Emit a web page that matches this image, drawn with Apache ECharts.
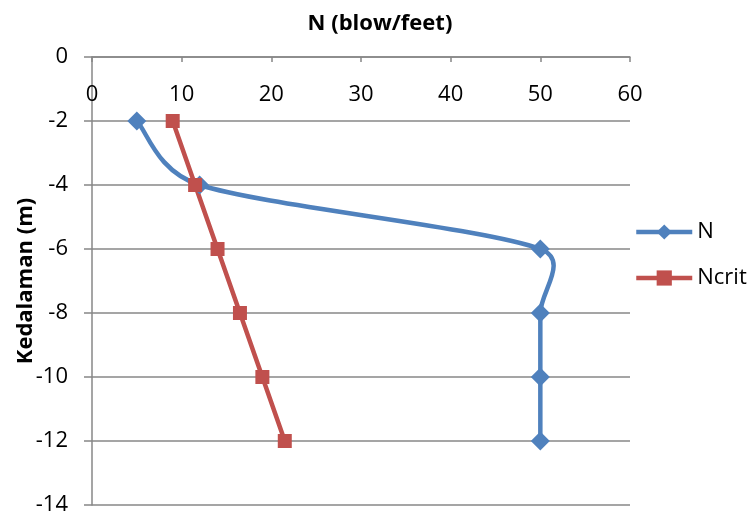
<!DOCTYPE html>
<html>
<head>
<meta charset="utf-8">
<script src="https://cdn.jsdelivr.net/npm/echarts@6/dist/echarts.min.js"></script>
<style>
  html, body { margin: 0; padding: 0; background: #fff; }
  #chart { width: 750px; height: 513px; }
</style>
</head>
<body>
<div id="chart"></div>
<script>
// Depth (m) against blow count N and critical blow count Ncrit
const depths = [-2, -4, -6, -8, -10, -12];
const nValues = [5, 12, 50, 50, 50, 50];
const nCritValues = [9, 11.5, 14, 16.5, 19, 21.5];
const xTicks = [0, 10, 20, 30, 40, 50, 60];
const yTicks = [0, -2, -4, -6, -8, -10, -12, -14];

const FONT = 'Open Sans';
const BLUE = '#4F81BD';
const RED = '#C0504D';
const GRID = '#878787';
const pair = (xs) => xs.map((x, i) => [x, depths[i]]);

const dist = (a, b) => Math.hypot(b[0] - a[0], b[1] - a[1]);

// Smoothed N curve: cubic Bezier segments, tangents of 1/6 of the chord to the
// neighbours, shortened when they would exceed half of the segment length
function renderSmoothN(params, api) {
  const n = nValues.length;
  const i = params.dataIndex;
  if (i >= n - 1) return null;
  const at = (j) => {
    const k = Math.max(0, Math.min(n - 1, j));
    return api.coord([nValues[k], depths[k]]);
  };
  const p0 = at(i - 1), p1 = at(i), p2 = at(i + 1), p3 = at(i + 2);
  const half = dist(p1, p2) / 2;
  const d02 = dist(p0, p2), d13 = dist(p1, p3);
  const f0 = d02 / 6 < half ? 1 / 6 : half / d02;
  const f1 = d13 / 6 < half ? 1 / 6 : half / d13;
  return {
    type: 'bezierCurve',
    shape: {
      x1: p1[0], y1: p1[1],
      x2: p2[0], y2: p2[1],
      cpx1: p1[0] + (p2[0] - p0[0]) * f0,
      cpy1: p1[1] + (p2[1] - p0[1]) * f0,
      cpx2: p2[0] - (p3[0] - p1[0]) * f1,
      cpy2: p2[1] - (p3[1] - p1[1]) * f1
    },
    style: { stroke: BLUE, lineWidth: 4.5, fill: null, lineCap: 'round' }
  };
}

const chart = echarts.init(document.getElementById('chart'), null, { renderer: 'canvas' });
chart.setOption({
  animation: false,
  backgroundColor: '#ffffff',
  textStyle: { fontFamily: FONT },
  title: {
    text: 'N (blow/feet)',
    left: 375,
    textAlign: 'center',
    top: 8,
    textStyle: { fontFamily: FONT, fontSize: 22, fontWeight: 'bold', color: '#000' }
  },
  legend: {
    orient: 'vertical',
    left: 634,
    top: 221,
    padding: 0,
    itemWidth: 56,
    itemHeight: 19,
    itemGap: 24,
    textStyle: { fontFamily: FONT, fontSize: 22, color: '#000' },
    data: [
      { name: 'N', lineStyle: { color: BLUE, width: 4.5, opacity: 1 } },
      { name: 'Ncrit', lineStyle: { color: RED, width: 4.5, opacity: 1 } }
    ]
  },
  grid: { left: 92, top: 57, right: 120, bottom: 8, containLabel: false, outerBoundsMode: 'none' },
  xAxis: {
    type: 'value',
    position: 'top',
    min: xTicks[0],
    max: xTicks[xTicks.length - 1],
    interval: 10,
    axisLine: { show: true, onZero: false, lineStyle: { color: GRID, width: 1.5 } },
    axisTick: { show: true, inside: true, length: 5, lineStyle: { color: GRID, width: 1.5 } },
    axisLabel: { inside: true, margin: 27, fontFamily: FONT, fontSize: 22, color: '#000' },
    splitLine: { show: false }
  },
  yAxis: {
    type: 'value',
    min: yTicks[yTicks.length - 1],
    max: yTicks[0],
    interval: 2,
    name: 'Kedalaman (m)',
    nameLocation: 'middle',
    nameRotate: 90,
    nameGap: 55,
    nameMoveOverlap: false,
    nameTextStyle: { fontFamily: FONT, fontSize: 22, fontWeight: 'bold', color: '#000' },
    axisLine: { show: true, onZero: false, lineStyle: { color: GRID, width: 1.5 } },
    axisTick: { show: true, length: 8, lineStyle: { color: GRID, width: 1.5 } },
    axisLabel: { margin: 24, fontFamily: FONT, fontSize: 22, color: '#000' },
    splitLine: { show: true, lineStyle: { color: GRID, width: 1.5 } }
  },
  series: [
    {
      name: 'N smooth',
      type: 'custom',
      data: pair(nValues),
      encode: { x: 0, y: 1 },
      silent: true,
      renderItem: renderSmoothN
    },
    {
      name: 'N',
      type: 'line',
      data: pair(nValues),
      symbol: 'diamond',
      symbolSize: 19,
      color: BLUE,
      lineStyle: { width: 4.5, color: BLUE, opacity: 0 },
      itemStyle: { color: BLUE }
    },
    {
      name: 'Ncrit',
      type: 'line',
      data: pair(nCritValues),
      symbol: 'rect',
      symbolSize: 14,
      color: RED,
      lineStyle: { width: 4.5, color: RED },
      itemStyle: { color: RED }
    }
  ]
});
</script>
</body>
</html>
